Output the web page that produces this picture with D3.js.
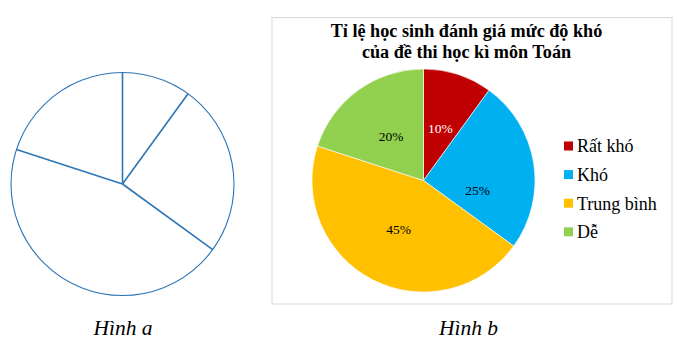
<!DOCTYPE html>
<html>
<head>
<meta charset="utf-8">
<script src="https://cdn.jsdelivr.net/npm/d3@7"></script>
<style>
  html, body { margin: 0; padding: 0; background: #fff; }
  svg { display: block; }
</style>
</head>
<body>
<svg id="chart" width="677" height="342"></svg>
<script>
// Data
const categories = ["Rất khó", "Khó", "Trung bình", "Dễ"];
const percents = [10, 25, 45, 20];
const colors = ["#C00000", "#00B0F0", "#FFC000", "#92D050"];
const labelColors = ["#ffffff", "#000000", "#000000", "#000000"];
const titleLines = ["Tỉ lệ học sinh đánh giá mức độ khó", "của đề thi học kì môn Toán"];
const captions = ["Hình a", "Hình b"];

const svg = d3.select("#chart");
const serif = "Liberation Serif";

const pie = d3.pie().sort(null).value(d => d);
const arcs = pie(percents);
const R = 111.5;
const arc = d3.arc().innerRadius(0).outerRadius(R);

// Figure a: outline-only pie
const ga = svg.append("g").attr("transform", "translate(122.5,184)");
ga.append("circle").attr("r", R)
  .attr("fill", "none").attr("stroke", "#2E75B6").attr("stroke-width", 1.1);
ga.selectAll("line").data(arcs).enter().append("line")
  .attr("x1", 0).attr("y1", 0)
  .attr("x2", d => R * Math.sin(d.startAngle))
  .attr("y2", d => -R * Math.cos(d.startAngle))
  .attr("stroke", "#2E75B6").attr("stroke-width", 1.6);

// Figure b: chart frame
svg.append("rect")
  .attr("x", 272).attr("y", 17.5).attr("width", 400).attr("height", 286.5)
  .attr("fill", "#fff").attr("stroke", "#D9D9D9").attr("stroke-width", 1);

svg.append("text")
  .attr("x", 466.5).attr("y", 37)
  .attr("text-anchor", "middle")
  .style("font-family", serif).style("font-weight", "bold").style("font-size", "18.2px")
  .selectAll("tspan").data(titleLines).enter().append("tspan")
  .attr("x", 466.5).attr("dy", (d, i) => i === 0 ? 0 : 20.5)
  .text(d => d);

const gb = svg.append("g").attr("transform", "translate(423.5,180.5)");
gb.selectAll("path").data(arcs).enter().append("path")
  .attr("d", arc)
  .attr("fill", (d, i) => colors[i])
  .attr("stroke", "#fff").attr("stroke-width", 0.6);

// data labels placed inside each slice
const labelR = 55;
const labelShift = [0, 0.33, 0, 0]; // radians, nudges the Khó label clockwise
gb.selectAll("text.lbl").data(arcs).enter().append("text")
  .attr("class", "lbl")
  .attr("transform", (d, i) => {
    const a = (d.startAngle + d.endAngle) / 2 + labelShift[i];
    return `translate(${labelR * Math.sin(a)},${-labelR * Math.cos(a)})`;
  })
  .attr("text-anchor", "middle").attr("dy", "0.35em")
  .style("font-family", serif).style("font-size", "13.5px")
  .attr("fill", (d, i) => labelColors[i])
  .text(d => d.data + "%");

// Legend
const lg = svg.append("g").attr("transform", "translate(564,146)");
const rows = lg.selectAll("g").data(categories).enter().append("g")
  .attr("transform", (d, i) => `translate(0,${i * 28.6})`);
rows.append("rect").attr("x", 0).attr("y", -4.5).attr("width", 9).attr("height", 9)
  .attr("fill", (d, i) => colors[i]);
rows.append("text").attr("x", 13).attr("dy", "0.35em")
  .style("font-family", serif).style("font-size", "18px")
  .text(d => d);

// Captions
svg.selectAll("text.cap").data(captions).enter().append("text")
  .attr("class", "cap")
  .attr("x", (d, i) => i === 0 ? 123 : 468.5).attr("y", 335)
  .attr("text-anchor", "middle")
  .style("font-family", serif).style("font-style", "italic").style("font-size", "21.5px")
  .text(d => d);
</script>
</body>
</html>
